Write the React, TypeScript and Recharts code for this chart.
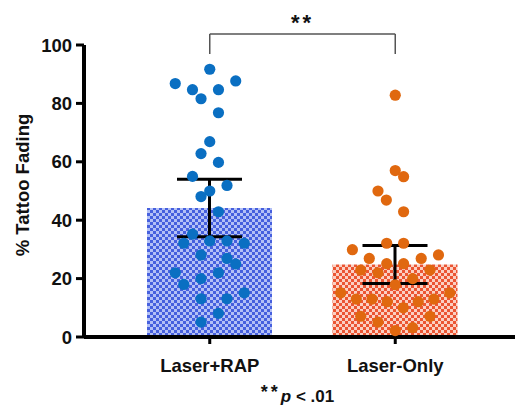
import React from 'react';
import {
  ComposedChart,
  Bar,
  Cell,
  ErrorBar,
  Scatter,
  XAxis,
  YAxis,
  ReferenceLine,
} from 'recharts';

const CATEGORIES = ['Laser+RAP', 'Laser-Only'];
const MEANS = [44.2, 24.8];
const SEMS = [9.85, 6.5];
const Y_TICKS = [0, 20, 40, 60, 80, 100];

// individual subjects, x offset is the jitter inside the column (category units)
const RAP_VALUES = [
  91.7, 86.8, 87.7, 84.7, 84.7, 81.6, 76.8, 66.9, 62.8, 59.8, 55.0, 51.9, 50.0, 48.1, 42.9, 35.2,
  32.1, 32.9, 32.9, 32.1, 28.1, 26.9, 25.0, 22.0, 22.0, 20.0, 18.0, 15.1, 13.1, 13.1, 8.1, 5.1,
];
const RAP_OFFSETS = [
  0, -0.186, 0.14, -0.093, 0.047, -0.047, 0.047, 0, -0.047, 0.047, -0.093, 0.093, 0, -0.047, 0.047, -0.093,
  -0.14, 0, 0.093, 0.186, -0.047, 0.093, 0.14, -0.186, 0.047, -0.047, -0.14, 0.186, -0.047, 0.093, 0.047, -0.047,
];
const ONLY_VALUES = [
  82.8, 57.0, 54.9, 50.0, 46.9, 42.9, 32.1, 32.1, 29.9, 26.9, 26.9, 28.1, 25.1, 25.1, 22.9, 22.0,
  22.9, 20.0, 17.9, 15.1, 15.1, 13.0, 13.0, 12.1, 12.1, 13.0, 10.0, 7.1, 7.1, 5.1, 2.2, 3.2,
];
const ONLY_OFFSETS = [
  0, 0, 0.045, -0.093, -0.048, 0.045, -0.046, 0.045, -0.231, -0.14, 0.14, 0.233, -0.046, 0.045, -0.186, -0.093,
  0.187, 0.094, 0, -0.294, 0.294, -0.21, -0.125, -0.043, 0.124, 0.208, 0.043, -0.186, 0.187, -0.093, 0, 0.094,
];

// significance bracket (y values)
const BRACKET_TOP = 103.8;
const BRACKET_FOOT = 96.9;

const barData = CATEGORIES.map((name, i) => ({ name, mean: MEANS[i], sem: SEMS[i] }));
const rapPoints = RAP_VALUES.map((y, i) => ({ x: 0 + RAP_OFFSETS[i], y }));
const onlyPoints = ONLY_VALUES.map((y, i) => ({ x: 1 + ONLY_OFFSETS[i], y }));

const FILLS = ['url(#checkBlue)', 'url(#checkRed)'];
const PAD = { left: 33, right: 27 };
const FONT = '"Liberation Sans", Arial, sans-serif';

const dot = (color: string) => (props: any) =>
  <circle cx={props.cx} cy={props.cy} r={5.6} fill={color} />;

const YLabel = (props: any) => {
  const { viewBox } = props;
  const x = viewBox.x + 29;
  const y = viewBox.y + viewBox.height / 2 - 6;
  return (
    <text x={x} y={y} transform={`rotate(-90 ${x} ${y})`} textAnchor="middle"
      fontSize={18.5} fontWeight="bold" fill="#111" fontFamily={FONT}>
      % Tattoo Fading
    </text>
  );
};

const PLabel = (props: any) => {
  const { viewBox } = props;
  const x = viewBox.x + viewBox.width / 2 - 2;
  const y = viewBox.y + 65;
  return (
    <text x={x} y={y} textAnchor="middle" fontWeight="bold" fill="#111" fontFamily={FONT}>
      <tspan fontSize={18} letterSpacing={3} dy={-4.5}>**</tspan>
      <tspan fontSize={17} fontStyle="italic" dy={4.5}>p</tspan>
      <tspan fontSize={17}> &lt; .01</tspan>
    </text>
  );
};

const bracket = { stroke: '#555', strokeWidth: 1.5, ifOverflow: 'visible' as const };

export default function App() {
  return (
    <div style={{ position: 'absolute', left: 0, top: 0, fontFamily: FONT }}>
      <svg width={0} height={0} style={{ position: 'absolute' }}>
        <defs>
          <pattern id="checkBlue" width={6} height={6} patternUnits="userSpaceOnUse">
            <rect width={6} height={6} fill="#b3c0f6" />
            <rect width={3} height={3} fill="#4660de" />
            <rect x={3} y={3} width={3} height={3} fill="#4660de" />
          </pattern>
          <pattern id="checkRed" width={6} height={6} patternUnits="userSpaceOnUse">
            <rect width={6} height={6} fill="#fbd0c2" />
            <rect width={3} height={3} fill="#eb5533" />
            <rect x={3} y={3} width={3} height={3} fill="#eb5533" />
          </pattern>
        </defs>
      </svg>
      <ComposedChart width={515} height={406} data={barData} margin={{ top: 45, right: 0, bottom: 0, left: 0 }}>
        <XAxis
          dataKey="name"
          padding={PAD}
          height={69}
          axisLine={{ stroke: '#000', strokeWidth: 4 }}
          tickLine={{ stroke: '#000', strokeWidth: 3 }}
          tickSize={7}
          tickMargin={15}
          tick={{ fontSize: 18.5, fontWeight: 'bold', fill: '#111', fontFamily: FONT }}
          label={{ content: PLabel }}
        />
        <XAxis xAxisId="num" type="number" dataKey="x" domain={[-0.5, 1.5]} padding={PAD} hide />
        <YAxis
          type="number"
          domain={[0, 100]}
          ticks={Y_TICKS}
          width={84}
          axisLine={{ stroke: '#000', strokeWidth: 4 }}
          tickLine={{ stroke: '#000', strokeWidth: 3 }}
          tickSize={8}
          tickMargin={4}
          tick={{ fontSize: 18.5, fontWeight: 'bold', fill: '#111', fontFamily: FONT }}
          label={{ content: YLabel }}
        />
        <Bar dataKey="mean" barSize={125} isAnimationActive={false}>
          {barData.map((d, i) => <Cell key={d.name} fill={FILLS[i]} />)}
          <ErrorBar dataKey="sem" width={32.5} stroke="#000" strokeWidth={3} direction="y" />
        </Bar>
        <Scatter xAxisId="num" data={rapPoints} dataKey="y" shape={dot('#0a6fc2')} isAnimationActive={false} />
        <Scatter xAxisId="num" data={onlyPoints} dataKey="y" shape={dot('#e0680f')} isAnimationActive={false} />
        <ReferenceLine xAxisId="num" segment={[{ x: 0, y: BRACKET_FOOT }, { x: 0, y: BRACKET_TOP }]} {...bracket} />
        <ReferenceLine xAxisId="num" segment={[{ x: 1, y: BRACKET_FOOT }, { x: 1, y: BRACKET_TOP }]} {...bracket} />
        <ReferenceLine xAxisId="num" segment={[{ x: 0, y: BRACKET_TOP }, { x: 1, y: BRACKET_TOP }]} {...bracket}
          label={{ value: '**', position: 'top', offset: 4, fontSize: 22, fontWeight: 'bold', fill: '#111', letterSpacing: 3 }} />
      </ComposedChart>
    </div>
  );
}
